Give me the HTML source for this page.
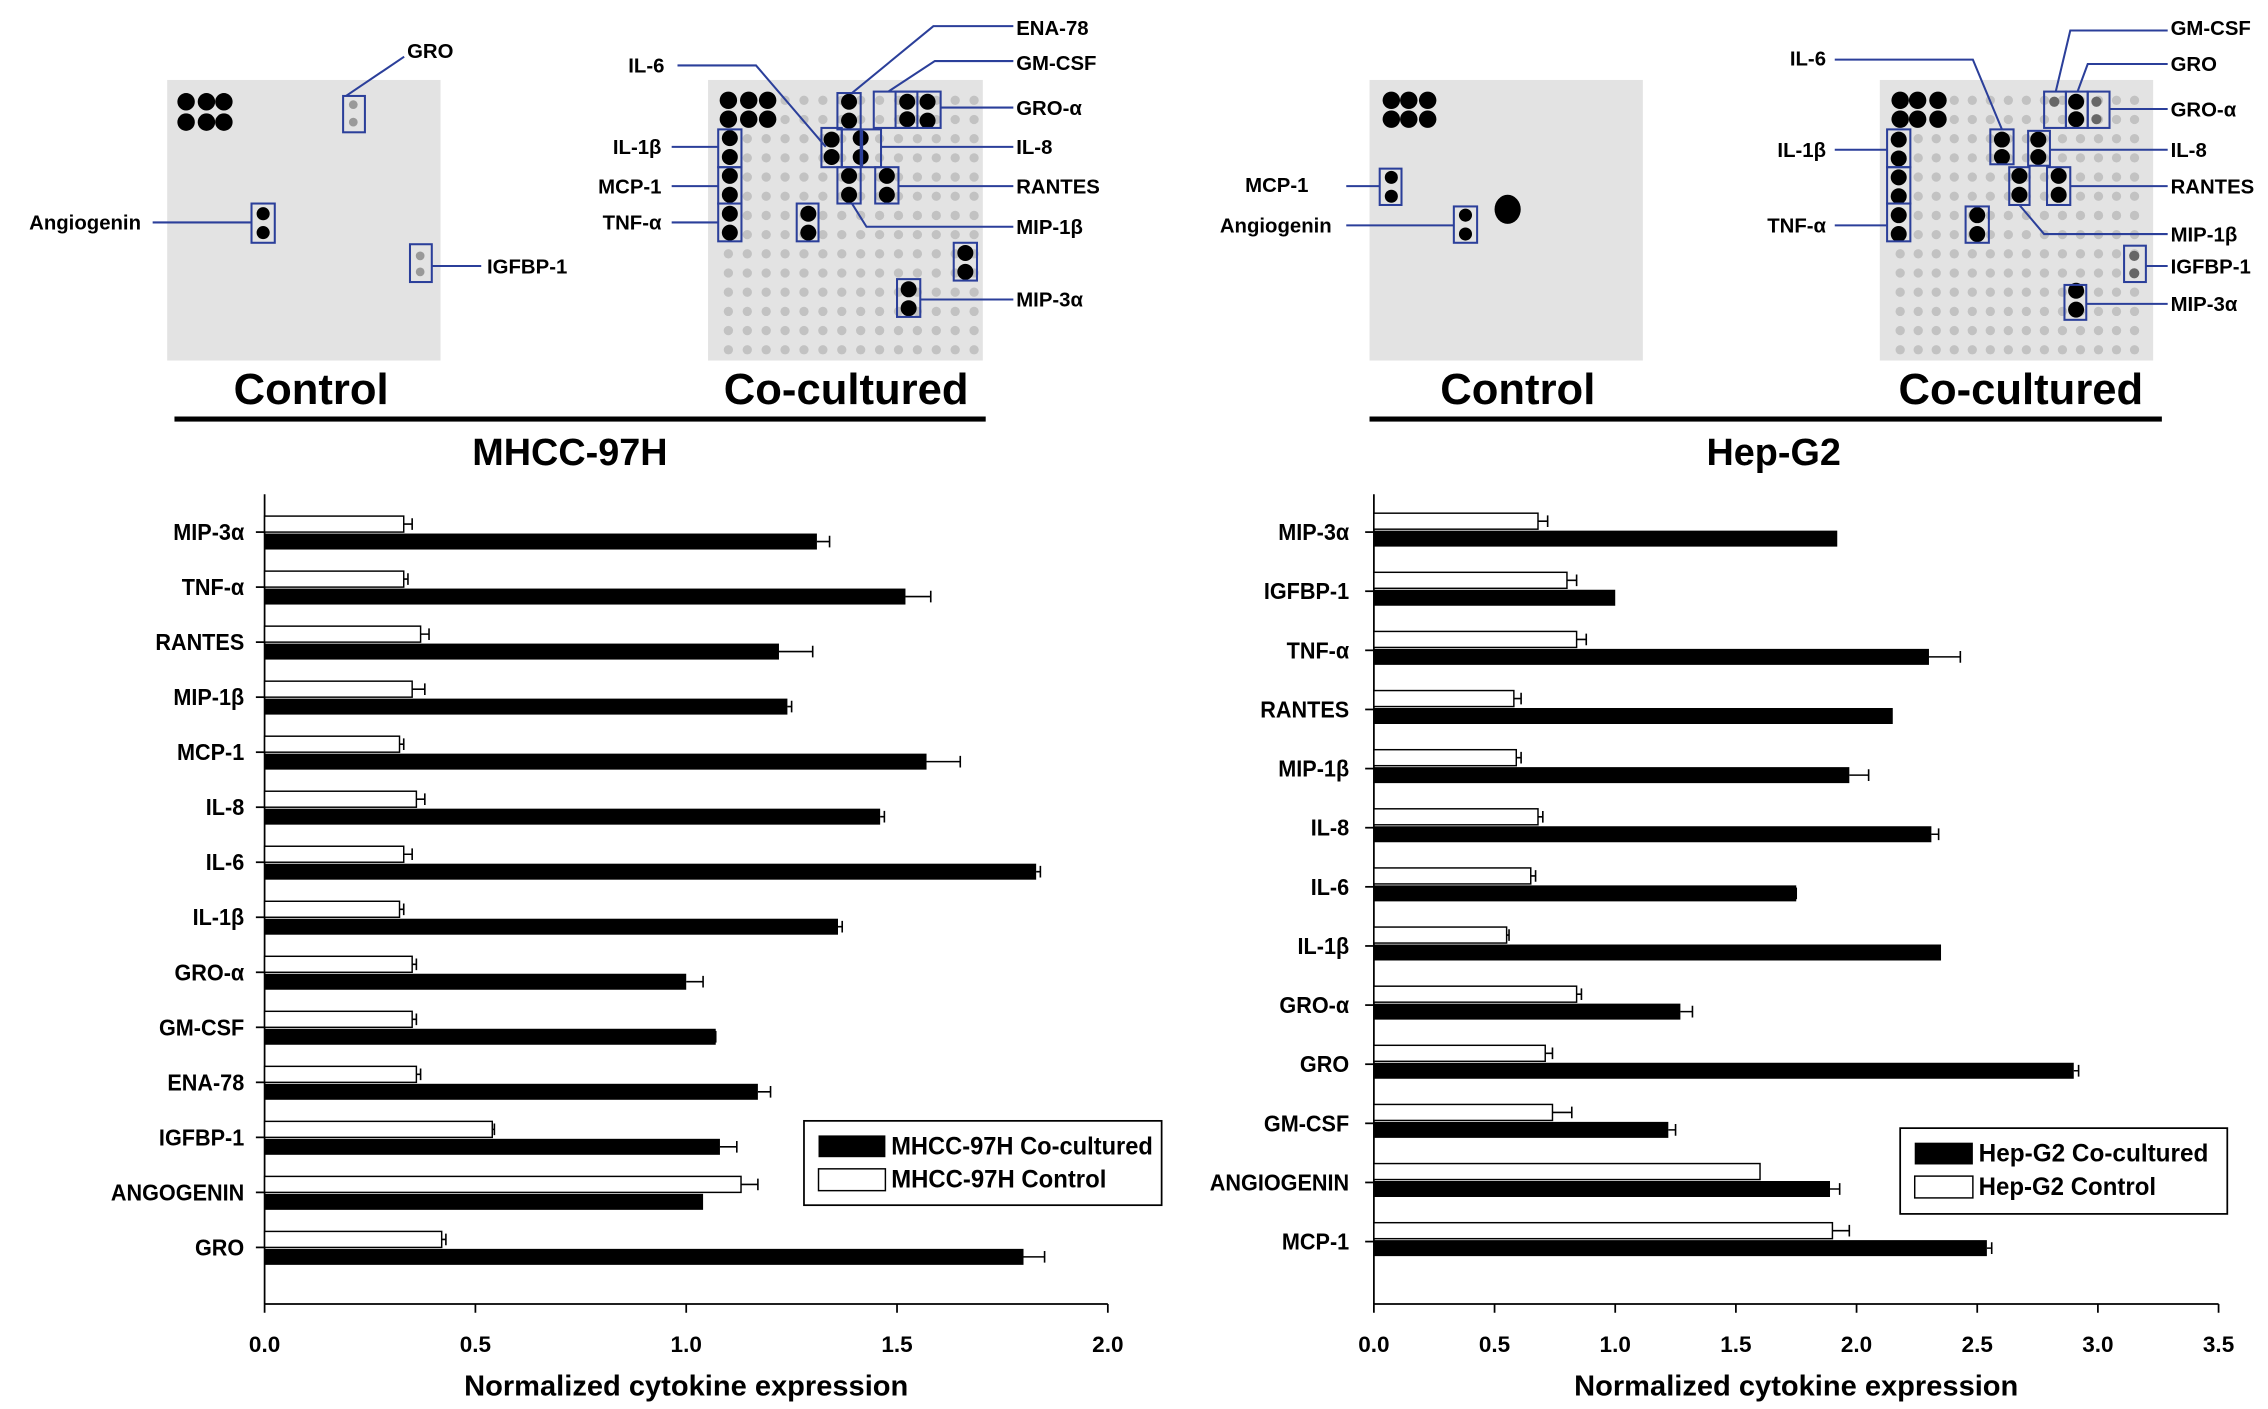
<!DOCTYPE html>
<html><head><meta charset="utf-8"><style>
html,body{margin:0;padding:0;background:#fff;}
svg{display:block;}
text{font-family:"Liberation Sans",Arial,sans-serif;font-weight:bold;fill:#000;}
</style></head><body>
<svg id="fig" xmlns="http://www.w3.org/2000/svg" width="2268" height="1409" viewBox="0 0 1560 969.2" preserveAspectRatio="none">
<g id="blots"></g>
<g id="annot" stroke="#2b3f9a" stroke-width="1.4" fill="none"></g>
<g id="annotText"></g>
<g>
<text x="214" y="278" font-size="30" text-anchor="middle">Control</text>
<text x="582" y="278" font-size="30" text-anchor="middle">Co-cultured</text>
<text x="1044" y="278" font-size="30" text-anchor="middle">Control</text>
<text x="1390" y="278" font-size="30" text-anchor="middle">Co-cultured</text>
<rect x="120" y="286.5" width="558" height="3.5" fill="#000"/>
<rect x="942" y="286.5" width="545" height="3.5" fill="#000"/>
<text x="392" y="320" font-size="26" text-anchor="middle">MHCC-97H</text>
<text x="1220" y="320" font-size="26" text-anchor="middle">Hep-G2</text>
</g>
<g id="chartL"></g>
<g id="chartR"></g>
</svg>
<script>
const leftCats=["MIP-3α","TNF-α","RANTES","MIP-1β","MCP-1","IL-8","IL-6","IL-1β","GRO-α","GM-CSF","ENA-78","IGFBP-1","ANGOGENIN","GRO"];
const leftCtrl=[0.33,0.33,0.37,0.35,0.32,0.36,0.33,0.32,0.35,0.35,0.36,0.54,1.13,0.42];
const leftCtrlErr=[0.35,0.34,0.39,0.38,0.33,0.38,0.35,0.33,0.36,0.36,0.37,0.545,1.17,0.43];
const leftCo=[1.31,1.52,1.22,1.24,1.57,1.46,1.83,1.36,1.00,1.07,1.17,1.08,1.04,1.80];
const leftCoErr=[1.34,1.58,1.30,1.25,1.65,1.47,1.84,1.37,1.04,1.07,1.20,1.12,null,1.85];
const leftTicks=["0.0","0.5","1.0","1.5","2.0"];
const rightCats=["MIP-3α","IGFBP-1","TNF-α","RANTES","MIP-1β","IL-8","IL-6","IL-1β","GRO-α","GRO","GM-CSF","ANGIOGENIN","MCP-1"];
const rightCtrl=[0.68,0.80,0.84,0.58,0.59,0.68,0.65,0.55,0.84,0.71,0.74,1.60,1.90];
const rightCtrlErr=[0.72,0.84,0.88,0.61,0.61,0.70,0.67,0.56,0.86,0.74,0.82,null,1.97];
const rightCo=[1.92,1.00,2.30,2.15,1.97,2.31,1.75,2.35,1.27,2.90,1.22,1.89,2.54];
const rightCoErr=[null,null,2.43,null,2.05,2.34,1.75,null,1.32,2.92,1.25,1.93,2.56];
const rightTicks=["0.0","0.5","1.0","1.5","2.0","2.5","3.0","3.5"];
const NS="http://www.w3.org/2000/svg";
function mk(parent,tag,attrs,txt){const e=document.createElementNS(NS,tag);for(const k in attrs)e.setAttribute(k,attrs[k]);if(txt!==undefined)e.textContent=txt;parent.appendChild(e);return e;}

function drawChart(g,cfg){
  const xs=v=>cfg.x0+v*cfg.ppu;
  const ys=i=>cfg.yTop+i*cfg.step;
  const xMax=parseFloat(cfg.ticks[cfg.ticks.length-1]);
  let e=mk(g,'line',{x1:cfg.x0,y1:340,x2:cfg.x0,y2:897,stroke:'#000','stroke-width':1.2});
  
  
  e=mk(g,'line',{x1:cfg.x0,y1:897,x2:xs(xMax),y2:897,stroke:'#000','stroke-width':1.2});
  
  
  cfg.ticks.forEach(t=>{
    const x=xs(parseFloat(t));
    let l=mk(g,'line',{x1:x,y1:897,x2:x,y2:903,stroke:'#000','stroke-width':1.2});
    
    
    let tx=mk(g,'text',{x:x,y:930,'font-size':15.5,'text-anchor':'middle'},t);
    
    
  });
  let xt=mk(g,'text',{x:(cfg.x0+xs(xMax))/2,y:960,'font-size':20,'text-anchor':'middle'},'Normalized cytokine expression');
  
  
  cfg.cats.forEach((c,i)=>{
    const y=ys(i);
    let l=mk(g,'line',{x1:cfg.x0-6,y1:y,x2:cfg.x0,y2:y,stroke:'#000','stroke-width':1.2});
    
    
    let t=mk(g,'text',{x:cfg.labelX/0.93,y:y+5.5,'font-size':16,'text-anchor':'end',transform:'scale(0.93,1)'},c);
    
    
    const cy=y+cfg.wOff, h=11;
    let r=mk(g,'rect',{x:cfg.x0,y:cy,width:xs(cfg.ctrl[i])-cfg.x0,height:h,fill:'#fff',stroke:'#000','stroke-width':1});
    
    
    if(cfg.ctrlErr[i]!=null){const ex=xs(cfg.ctrlErr[i]);
      let p=mk(g,'path',{d:`M${xs(cfg.ctrl[i])} ${cy+h/2}H${ex}M${ex} ${cy+1.5}V${cy+h-1.5}`,stroke:'#000','stroke-width':1.1,fill:'none'});
      
      }
    const by=y+cfg.bOff;
    let b=mk(g,'rect',{x:cfg.x0,y:by,width:xs(cfg.co[i])-cfg.x0,height:h,fill:'#000'});
    
    
    if(cfg.coErr[i]!=null){const ex=xs(cfg.coErr[i]);
      let p=mk(g,'path',{d:`M${xs(cfg.co[i])} ${by+h/2}H${ex}M${ex} ${by+1.5}V${by+h-1.5}`,stroke:'#000','stroke-width':1.1,fill:'none'});
      
      }
  });
  const L=cfg.legend;
  let lg=mk(g,'g',{});
  
  
  mk(lg,'rect',{x:L.x,y:L.y,width:L.w,height:L.h,fill:'#fff',stroke:'#000','stroke-width':1.2});
  mk(lg,'rect',{x:L.x+10,y:L.y+10,width:L.sw,height:15,fill:'#000'});
  mk(lg,'rect',{x:L.x+10,y:L.y+33,width:L.sw,height:15,fill:'#fff',stroke:'#000','stroke-width':1});
  let t1=mk(lg,'text',{x:L.x+L.sw+14,y:L.y+23,'font-size':17,'font-weight':'normal',textLength:L.l1,lengthAdjust:'spacingAndGlyphs'},L.t1);
  
  
  let t2=mk(lg,'text',{x:L.x+L.sw+14,y:L.y+46,'font-size':17,'font-weight':'normal',textLength:L.l2,lengthAdjust:'spacingAndGlyphs'},L.t2);
  
  
}
drawChart(document.getElementById('chartL'),{x0:182,ppu:290,yTop:366,step:37.85,labelX:168,wOff:-11,bOff:1,
  cats:leftCats,ctrl:leftCtrl,ctrlErr:leftCtrlErr,co:leftCo,coErr:leftCoErr,ticks:leftTicks,
  legend:{x:553,y:771,w:246,h:58,sw:46,t1:'MHCC-97H Co-cultured',t2:'MHCC-97H Control',l1:180,l2:148}});
drawChart(document.getElementById('chartR'),{x0:945,ppu:166,yTop:366,step:40.67,labelX:928,wOff:-13,bOff:-1,
  cats:rightCats,ctrl:rightCtrl,ctrlErr:rightCtrlErr,co:rightCo,coErr:rightCoErr,ticks:rightTicks,
  legend:{x:1307,y:776,w:225,h:59,sw:40,t1:'Hep-G2 Co-cultured',t2:'Hep-G2 Control',l1:158,l2:122}});

const bg=document.getElementById('blots');
function blot(x,y,w,h,grid,x0,dxs,name){
  const g=mk(bg,'g',{});
  
  
  mk(g,'rect',{x:x,y:y,width:w,height:h,fill:'#e3e3e3'});
  if(grid){for(let r=0;r<14;r++)for(let c=0;c<15;c++){const cx=x0+c*dxs,cy=69+r*13.2;if(cx<x+w-3&&cy<y+h-4)mk(g,'circle',{cx:cx,cy:cy,r:3.2,fill:'#c2c2c2'});}}
  return g;
}
function dots(g,pts,r,fill){pts.forEach(p=>mk(g,'circle',{cx:p[0],cy:p[1],r:r,fill:fill||'#000'}));}
let g1=blot(115,55,188,193,false,0,0,'left-control-blot');
dots(g1,[[128,70],[142,70],[154,70],[128,84],[142,84],[154,84]],6);
dots(g1,[[181,147],[181,160]],4.5);dots(g1,[[243,72],[243,84],[289,176],[289,187]],3,'#999');
let g2=blot(487,55,189,193,true,501,13,'left-cocultured-blot');
dots(g2,[[501,69],[515,69],[528,69],[501,82],[515,82],[528,82]],6);
[[502,95],[502,108],[502,121],[502,134],[502,147],[502,160],[584,70],[584,83],[624,70],[624,82],[638,70],[638,83],[572,96],[572,108],[592,95],[592,108],[584,121],[584,134],[610,121],[610,134],[556,147],[556,160],[664,174],[664,187],[625,199],[625,212]].forEach(p=>dots(g2,[p],5.5));
let g3=blot(942,55,188,193,false,0,0,'right-control-blot');
dots(g3,[[957,69],[969,69],[982,69],[957,82],[969,82],[982,82]],6);
dots(g3,[[957,122],[957,135],[1008,148],[1008,161]],4.5);
mk(g3,'ellipse',{cx:1037,cy:144,rx:9,ry:10,fill:'#000'});
let g4=blot(1293,55,188,193,true,1307,12.4,'right-cocultured-blot');
dots(g4,[[1307,69],[1319,69],[1333,69],[1307,82],[1319,82],[1333,82]],6);
[[1306,96],[1306,109],[1306,122],[1306,135],[1306,148],[1306,161],[1377,96],[1377,108],[1402,96],[1402,108],[1389,121],[1389,134],[1416,121],[1416,134],[1360,148],[1360,161],[1428,70],[1428,82],[1428,213],[1428,200]].forEach(p=>dots(g4,[p],5.5));
dots(g4,[[1413,70],[1442,70],[1442,82],[1468,176],[1468,188]],3.5,'#666');

const an=document.getElementById('annot'), at=document.getElementById('annotText');
const boxes=[[236,66,15,25],[173,140,16,27],[282,168,15,26],
 [576,64,16,25],[601,63,46,25],[616,63,15,25],[565,88,14,27],[579,89,13,26],[593,89,13,26],[602,115,16,25],[576,115,16,25],[494,89,16,26],[494,115,16,25],[494,140,16,26],[548,140,15,26],[656,167,16,26],[617,192,16,26],
 [949,116,15,25],[1000,142,16,25],
 [1369,89,16,24],[1395,90,15,24],[1406,63,15,25],[1421,63,15,25],[1436,63,15,25],[1382,115,14,26],[1408,115,16,26],[1298,89,16,26],[1298,115,16,25],[1298,140,16,26],[1352,142,16,25],[1461,169,15,25],[1420,196,15,24]];
boxes.forEach(b=>mk(an,'rect',{x:b[0],y:b[1],width:b[2],height:b[3]}));
const lines=["M238 66L278 39","M105 153H173","M297 183H331",
 "M586 64L642 18H697","M611 63L643 42H697","M647 74H697","M466 45H520L568 101","M606 101H697","M618 128H697","M586 140L596 156H697","M462 101H494","M462 128H494","M462 153H494","M633 206H697",
 "M926 128H949","M926 155H1000",
 "M1262 41H1357L1377 89","M1410 103H1491","M1414 63L1424 21H1491","M1429 63L1436 44H1491","M1451 75H1491","M1424 128H1491","M1389 141L1406 161H1491","M1262 103H1298","M1262 155H1298","M1476 183H1491","M1435 209H1491"];
lines.forEach(d=>mk(an,'path',{d:d}));
const labels=[["GRO",280,40,"start"],["Angiogenin",97,158,"end"],["IGFBP-1",335,188,"start"],
 ["ENA-78",699,24,"start"],["GM-CSF",699,48,"start"],["GRO-α",699,79,"start"],["IL-6",457,50,"end"],["IL-8",699,106,"start"],["RANTES",699,133,"start"],["MIP-1β",699,161,"start"],["IL-1β",455,106,"end"],["MCP-1",455,133,"end"],["TNF-α",455,158,"end"],["MIP-3α",699,211,"start"],
 ["MCP-1",900,132,"end"],["Angiogenin",916,160,"end"],
 ["IL-6",1256,45,"end"],["GM-CSF",1493,24,"start"],["GRO",1493,49,"start"],["GRO-α",1493,80,"start"],["IL-8",1493,108,"start"],["RANTES",1493,133,"start"],["MIP-1β",1493,166,"start"],["IGFBP-1",1493,188,"start"],["MIP-3α",1493,214,"start"],["IL-1β",1256,108,"end"],["TNF-α",1256,160,"end"]];
labels.forEach(l=>{const t=mk(at,'text',{x:l[1],y:l[2],'font-size':14,'text-anchor':l[3]},l[0]);
  
  });
</script>
</body></html>
